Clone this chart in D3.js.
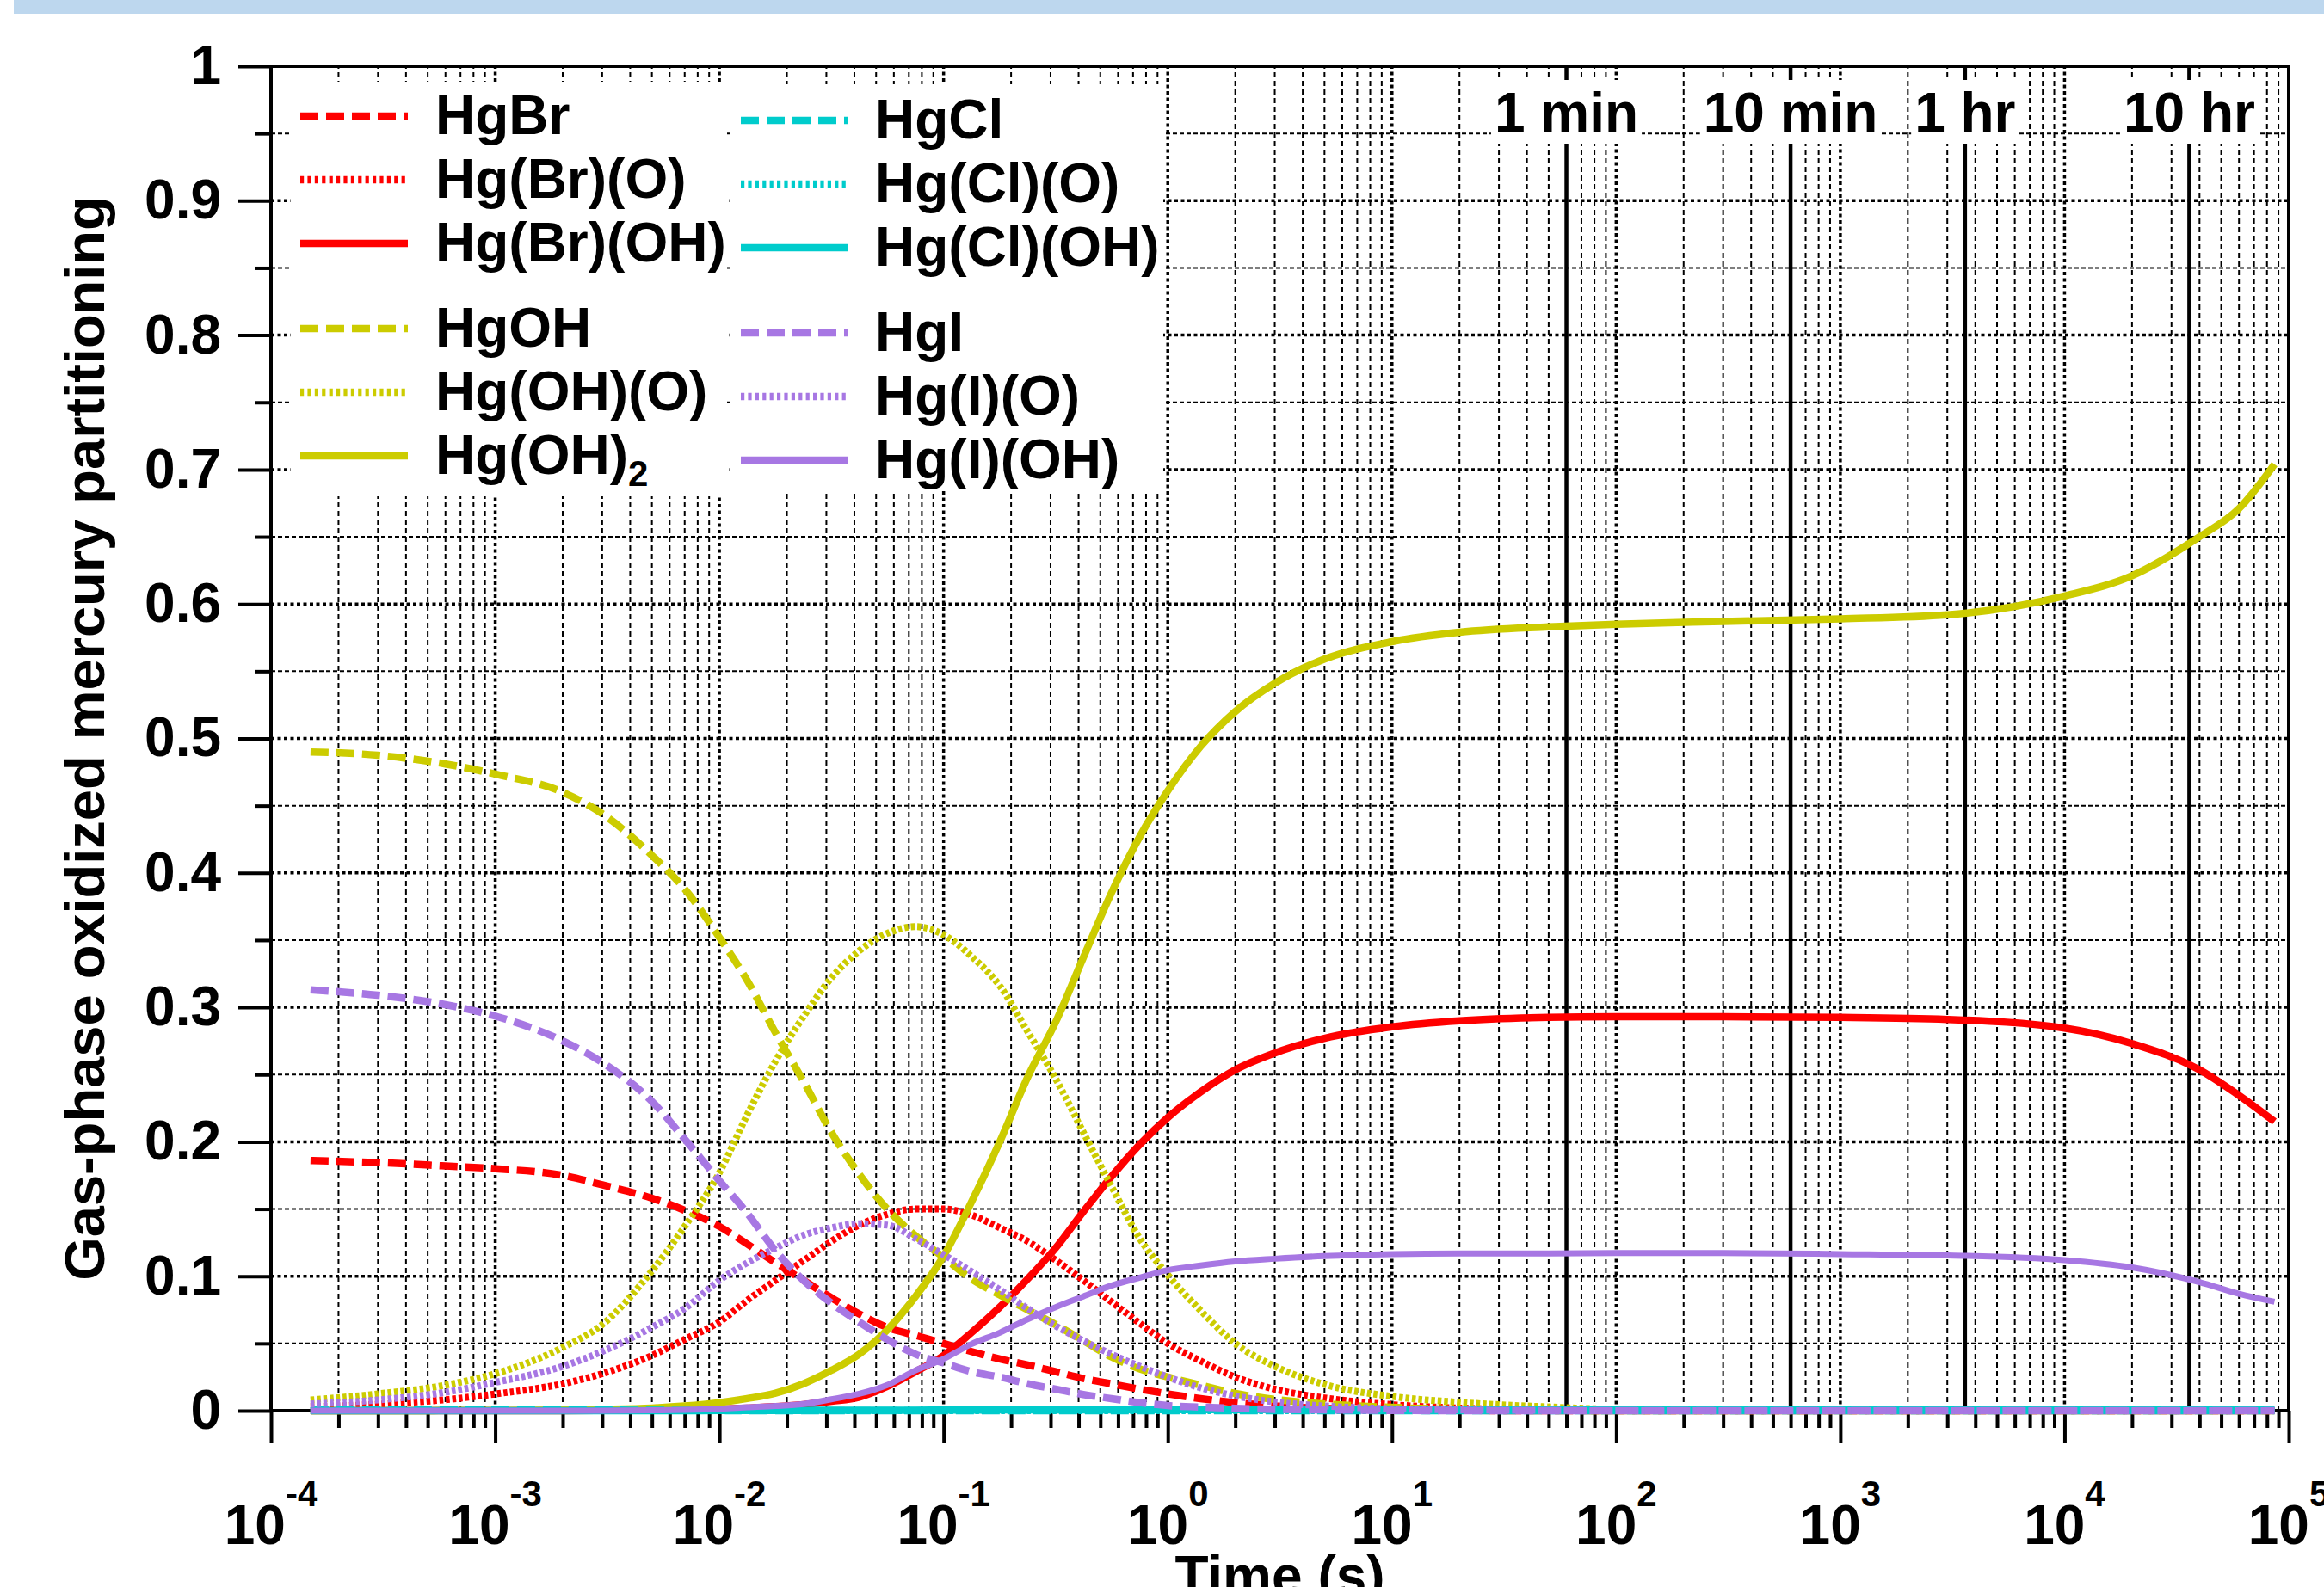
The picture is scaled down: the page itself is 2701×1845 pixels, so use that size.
<!DOCTYPE html>
<html>
<head>
<meta charset="utf-8">
<script src="https://cdn.jsdelivr.net/npm/d3@7"></script>
<style>
  body { margin: 0; background: #fff; }
  svg { display: block; font-family: "Liberation Sans", Arial, sans-serif; font-weight: bold; }
</style>
</head>
<body>
<svg id="chart" width="2701" height="1845"></svg>
<script>
// time points (s)
const time = [1.5e-4, 3e-4, 6e-4, 1e-3, 2e-3, 3e-3, 5e-3, 7e-3, 0.01, 0.0133, 0.0178, 0.0237, 0.0316, 0.042, 0.056, 0.075,
  0.1, 0.133, 0.178, 0.237, 0.316, 0.42, 0.56, 0.75, 1, 1.4, 2, 3, 5, 10, 20, 50, 100, 300, 1000, 3000, 10000, 20000, 40000, 60000, 86400];

// partitioning of each species at those times
const hgBr = [0.186, 0.1845, 0.182, 0.180, 0.175, 0.168, 0.158, 0.149, 0.137, 0.124, 0.110, 0.097, 0.084, 0.072, 0.062, 0.056,
  0.050, 0.044, 0.0385, 0.034, 0.029, 0.024, 0.020, 0.016, 0.0125, 0.009, 0.006, 0.0035, 0.0018, 0.0006, 0.0002, 0, 0, 0, 0, 0, 0, 0, 0, 0, 0];
const hgBrO = [0.003, 0.0048, 0.0082, 0.0124, 0.020, 0.0275, 0.041, 0.053, 0.066, 0.082, 0.097, 0.1115, 0.126, 0.138, 0.146, 0.150,
  0.150, 0.1455, 0.136, 0.126, 0.112, 0.097, 0.081, 0.065, 0.050, 0.037, 0.025, 0.016, 0.0095, 0.0045, 0.002, 0.0005, 0.0001, 0, 0, 0, 0, 0, 0, 0, 0];
const hgBrOH = [0, 0, 0, 0, 0, 0.0001, 0.0002, 0.0005, 0.0012, 0.002, 0.003, 0.0045, 0.007, 0.010, 0.018, 0.029,
  0.041, 0.058, 0.077, 0.098, 0.121, 0.148, 0.174, 0.198, 0.218, 0.237, 0.2535, 0.266, 0.277, 0.2855, 0.290, 0.2925, 0.293, 0.293, 0.2925, 0.291, 0.2845, 0.273, 0.2535, 0.2345, 0.215];
const hgOH = [0.490, 0.4875, 0.481, 0.4735, 0.460, 0.444, 0.413, 0.388, 0.352, 0.320, 0.281, 0.245, 0.207, 0.176, 0.150, 0.130,
  0.114, 0.098, 0.086, 0.075, 0.064, 0.052, 0.040, 0.031, 0.025, 0.019, 0.0128, 0.0084, 0.005, 0.0025, 0.001, 0.0003, 0, 0, 0, 0, 0, 0, 0, 0, 0];
const hgOHO = [0.008, 0.0125, 0.019, 0.0275, 0.047, 0.064, 0.104, 0.137, 0.177, 0.220, 0.260, 0.293, 0.322, 0.342, 0.355, 0.360,
  0.354, 0.338, 0.316, 0.282, 0.247, 0.207, 0.167, 0.128, 0.101, 0.0745, 0.050, 0.033, 0.0195, 0.0106, 0.0062, 0.0028, 0.001, 0.0002, 0, 0, 0, 0, 0, 0, 0];
const hgOH2 = [0, 0, 0.0001, 0.0002, 0.0005, 0.001, 0.002, 0.0035, 0.006, 0.009, 0.013, 0.020, 0.030, 0.042, 0.060, 0.085,
  0.115, 0.155, 0.200, 0.248, 0.289, 0.337, 0.385, 0.427, 0.461, 0.494, 0.520, 0.541, 0.559, 0.572, 0.579, 0.583, 0.585, 0.587, 0.589, 0.592, 0.606, 0.621, 0.650, 0.671, 0.704];
const hgCl = [0.001, 0.001, 0.0009, 0.0008, 0.0006, 0.0005, 0.0003, 0.0002, 0.0001, 0, 0, 0, 0, 0, 0, 0,
  0, 0, 0, 0, 0, 0, 0, 0, 0, 0, 0, 0, 0, 0, 0, 0, 0, 0, 0, 0, 0, 0, 0, 0, 0];
const hgClO = [0, 0, 0, 0, 0, 0, 0, 0, 0, 0, 0, 0, 0, 0, 0, 0,
  0, 0, 0, 0, 0, 0, 0, 0, 0, 0, 0, 0, 0, 0, 0, 0, 0, 0, 0, 0, 0, 0, 0, 0, 0];
const hgClOH = [0, 0, 0, 0, 0, 0, 0, 0, 0.0001, 0.0001, 0.0002, 0.0002, 0.0003, 0.0003, 0.0004, 0.0004,
  0.0005, 0.0005, 0.0006, 0.0006, 0.0007, 0.0007, 0.0007, 0.0008, 0.0008, 0.0008, 0.0008, 0.0008, 0.0008, 0.0008, 0.0008, 0.0008, 0.0008, 0.0008, 0.0008, 0.0008, 0.0008, 0.0008, 0.0008, 0.0008, 0.0008];
const hgI = [0.313, 0.309, 0.302, 0.2935, 0.275, 0.259, 0.230, 0.202, 0.171, 0.147, 0.119, 0.097, 0.080, 0.066, 0.053, 0.042,
  0.0355, 0.029, 0.025, 0.020, 0.016, 0.012, 0.009, 0.006, 0.0038, 0.0027, 0.0018, 0.001, 0.0006, 0.0002, 0, 0, 0, 0, 0, 0, 0, 0, 0, 0, 0];
const hgIO = [0.005, 0.008, 0.0137, 0.021, 0.033, 0.044, 0.062, 0.076, 0.097, 0.110, 0.121, 0.1305, 0.136, 0.139, 0.138, 0.128,
  0.116, 0.1035, 0.090, 0.076, 0.063, 0.052, 0.042, 0.033, 0.025, 0.017, 0.011, 0.0065, 0.0035, 0.0015, 0.0006, 0.0002, 0, 0, 0, 0, 0, 0, 0, 0, 0];
const hgIOH = [0, 0, 0, 0, 0, 0, 0.0003, 0.0007, 0.0015, 0.0025, 0.0035, 0.005, 0.0085, 0.0125, 0.019, 0.030,
  0.0385, 0.0495, 0.058, 0.068, 0.077, 0.085, 0.093, 0.099, 0.1045, 0.108, 0.111, 0.113, 0.115, 0.1165, 0.117, 0.117, 0.1172, 0.1172, 0.1165, 0.1155, 0.112, 0.1065, 0.0956, 0.087, 0.081];

// axis ticks and marker labels
const decades = [-4, -3, -2, -1, 0, 1, 2, 3, 4, 5];
const yTicks = [0, 0.1, 0.2, 0.3, 0.4, 0.5, 0.6, 0.7, 0.8, 0.9, 1];
const markerTimes = [60, 600, 3600, 36000];
const markerLabels = ["1 min", "10 min", "1 hr", "10 hr"];

const red = "#ff0000", olive = "#cccc00", cyan = "#00cccc", purple = "#a777e3";

// series in drawing order; legend column/row given separately
const series = [
  {name: "HgBr", values: hgBr, color: red, kind: "dash", col: 0, row: 0},
  {name: "Hg(Br)(O)", values: hgBrO, color: red, kind: "dot", col: 0, row: 1},
  {name: "Hg(Br)(OH)", values: hgBrOH, color: red, kind: "solid", col: 0, row: 2},
  {name: "HgOH", values: hgOH, color: olive, kind: "dash", col: 0, row: 3},
  {name: "Hg(OH)(O)", values: hgOHO, color: olive, kind: "dot", col: 0, row: 4},
  {name: "Hg(OH)", sub: "2", values: hgOH2, color: olive, kind: "solid", col: 0, row: 5},
  {name: "HgCl", values: hgCl, color: cyan, kind: "dash", col: 1, row: 0},
  {name: "Hg(Cl)(O)", values: hgClO, color: cyan, kind: "dot", col: 1, row: 1},
  {name: "Hg(Cl)(OH)", values: hgClOH, color: cyan, kind: "solid", col: 1, row: 2},
  {name: "HgI", values: hgI, color: purple, kind: "dash", col: 1, row: 3},
  {name: "Hg(I)(O)", values: hgIO, color: purple, kind: "dot", col: 1, row: 4},
  {name: "Hg(I)(OH)", values: hgIOH, color: purple, kind: "solid", col: 1, row: 5}
];

const svg = d3.select("#chart");

// scales
const x = d3.scaleLog().domain([1e-4, 1e5]).range([315, 2660]);
const y = d3.scaleLinear().domain([0, 1]).range([1640, 77]);

// light blue band at top
svg.append("rect").attr("x", 16).attr("y", 0).attr("width", 2685).attr("height", 16).attr("fill", "#bdd7ee");

// grid
const grid = svg.append("g");
x.ticks().filter(t => t > 1.01e-4 && t < 0.99e5).forEach(t => {
  const lg = Math.log10(t);
  const major = Math.abs(lg - Math.round(lg)) < 1e-6;
  grid.append("line")
    .attr("x1", x(t)).attr("x2", x(t)).attr("y1", y(0)).attr("y2", y(1))
    .attr("stroke", "#000")
    .attr("stroke-width", major ? 3.5 : 2)
    .attr("stroke-dasharray", major ? "4 3.5" : "6 4");
});
d3.range(1, 20).forEach(i => {
  const major = i % 2 === 0;
  grid.append("line")
    .attr("x1", x(1e-4)).attr("x2", x(1e5)).attr("y1", y(i * 0.05)).attr("y2", y(i * 0.05))
    .attr("stroke", "#000")
    .attr("stroke-width", major ? 3.5 : 2)
    .attr("stroke-dasharray", major ? "4 3.5" : "5 3");
});

// time markers
markerTimes.forEach((t, i) => {
  svg.append("line")
    .attr("x1", x(t)).attr("x2", x(t)).attr("y1", y(0)).attr("y2", y(1))
    .attr("stroke", "#000").attr("stroke-width", 4.5);
  const g = svg.append("g");
  const txt = g.append("text")
    .attr("x", x(t)).attr("y", 153)
    .attr("text-anchor", "middle")
    .attr("font-size", 64)
    .text(markerLabels[i]);
  const bb = txt.node().getBBox();
  g.insert("rect", "text")
    .attr("x", bb.x - 4).attr("y", 93).attr("width", bb.width + 8).attr("height", 74)
    .attr("fill", "#fff");
});

// legend boxes
svg.append("rect").attr("x", 338).attr("y", 95).attr("width", 507).attr("height", 482).attr("fill", "#fff");
svg.append("rect").attr("x", 849).attr("y", 98).attr("width", 503).attr("height", 472).attr("fill", "#fff");

// frame
svg.append("rect")
  .attr("x", x(1e-4)).attr("y", y(1))
  .attr("width", x(1e5) - x(1e-4)).attr("height", y(0) - y(1))
  .attr("fill", "none").attr("stroke", "#000").attr("stroke-width", 4);

// y axis
const yAxis = svg.append("g")
  .attr("transform", "translate(" + x(1e-4) + ",0)")
  .call(d3.axisLeft(y).tickValues(yTicks).tickSize(38).tickSizeOuter(0).tickPadding(20).tickFormat(d3.format(".1~f")));
svg.append("g")
  .attr("transform", "translate(" + x(1e-4) + ",0)")
  .call(d3.axisLeft(y).tickValues(d3.range(0, 10).map(i => i / 10 + 0.05)).tickSize(19).tickSizeOuter(0).tickFormat(""));

// x axis
svg.append("g")
  .attr("transform", "translate(0," + y(0) + ")")
  .call(d3.axisBottom(x).tickValues(decades.map(e => Math.pow(10, e))).tickSize(38).tickSizeOuter(0).tickFormat(""));
svg.append("g")
  .attr("transform", "translate(0," + y(0) + ")")
  .call(d3.axisBottom(x).tickValues(x.ticks().filter(t => {
    const lg = Math.log10(t); return Math.abs(lg - Math.round(lg)) > 1e-6;
  })).tickSize(20).tickSizeOuter(0).tickFormat(""));

svg.selectAll(".domain").remove();
svg.selectAll(".tick line").attr("stroke", "#000").attr("stroke-width", 4);
yAxis.selectAll(".tick text").attr("font-size", 64).attr("font-family", null).attr("fill", "#000");

// x tick labels: 10 with superscript exponent
decades.forEach(e => {
  const t = svg.append("text")
    .attr("x", x(Math.pow(10, e))).attr("y", 1795)
    .attr("text-anchor", "middle")
    .attr("font-size", 64);
  t.append("tspan").text("10");
  t.append("tspan").attr("dy", -44).attr("font-size", 42).text(e);
});

// axis titles
svg.append("text")
  .attr("transform", "translate(121," + ((y(0) + y(1)) / 2) + ") rotate(-90)")
  .attr("text-anchor", "middle")
  .attr("font-size", 65)
  .text("Gas-phase oxidized mercury partitioning");
svg.append("text")
  .attr("x", (x(1e-4) + x(1e5)) / 2).attr("y", 1854)
  .attr("text-anchor", "middle")
  .attr("font-size", 64)
  .text("Time (s)");

// curves
const lineStyle = {
  dash: {width: 8.5, dash: "21 9"},
  dot: {width: 8, dash: "4.5 3"},
  solid: {width: 8.5, dash: null}
};
const line = d3.line()
  .x(d => x(d[0]))
  .y(d => y(d[1]))
  .curve(d3.curveMonotoneX);

series.forEach(s => {
  const st = lineStyle[s.kind];
  svg.append("path")
    .datum(time.map((t, i) => [t, s.values[i]]))
    .attr("fill", "none")
    .attr("stroke", s.color)
    .attr("stroke-width", s.kind === "solid" && s.color === purple ? 7 : st.width)
    .attr("stroke-dasharray", st.dash)
    .attr("d", line);
});

// legend entries
const legendCol = [{x1: 349, x2: 474, tx: 506, y0: 135}, {x1: 861, x2: 986, tx: 1017, y0: 140}];
const legendDash = {dash: "21 9", dot: "4.2 4.2", solid: null};
series.forEach(s => {
  const c = legendCol[s.col];
  const ly = c.y0 + s.row * 74 + (s.row >= 3 ? 25 : 0);
  svg.append("line")
    .attr("x1", c.x1).attr("x2", c.x2).attr("y1", ly).attr("y2", ly)
    .attr("stroke", s.color).attr("stroke-width", 8.6)
    .attr("stroke-dasharray", legendDash[s.kind]);
  const t = svg.append("text")
    .attr("x", c.tx).attr("y", ly + 21)
    .attr("font-size", 64);
  t.append("tspan").text(s.name);
  if (s.sub) t.append("tspan").attr("dy", 14).attr("font-size", 42).text(s.sub);
});
</script>
</body>
</html>
